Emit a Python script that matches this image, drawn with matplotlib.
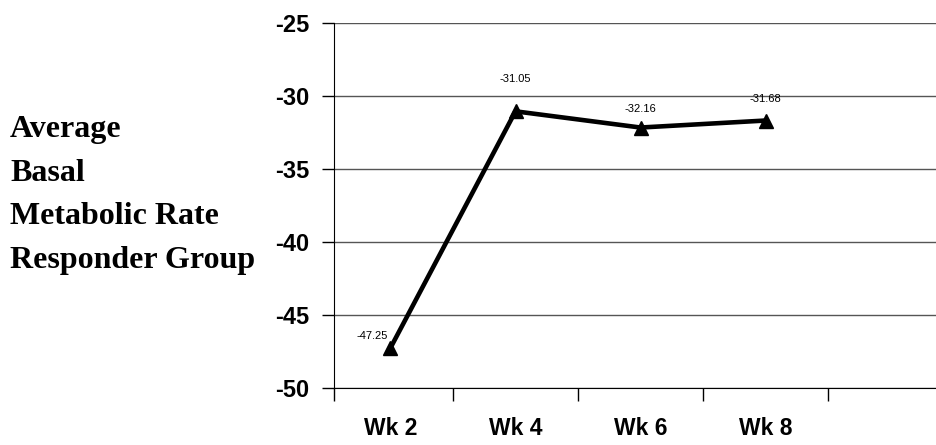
import matplotlib.pyplot as plt

weeks = ['Wk 2', 'Wk 4', 'Wk 6', 'Wk 8']
bmr = [-47.25, -31.05, -32.16, -31.68]
labels = ['-47.25', '-31.05', '-32.16', '-31.68']

# label offsets in pixels (dx, dy)
offsets = [(-18, 12), (0, 32), (0, 19), (0, 22)]

W, H = 937, 445
fig = plt.figure(figsize=(W / 100, H / 100), dpi=100)
ax = fig.add_axes([334 / W, (H - 388) / H, (W - 334) / W, (388 - 23) / H])

x = list(range(len(weeks)))
ax.plot(x, bmr, color='black', lw=3.3, marker='^', markersize=10.5, zorder=3)

for xi, yi, lab, (dx, dy) in zip(x, bmr, labels, offsets):
    ax.annotate(lab, (xi, yi), xytext=(dx * 0.72, dy * 0.72), textcoords='offset points',
                ha='center', va='center', fontsize=8, family='Liberation Sans')

x0 = 0.5 - (453 - 334) / 125
ax.set_xlim(x0, 0.5 + (W - 453) / 125)
ax.set_ylim(-50, -25)
ax.set_yticks([-50, -45, -40, -35, -30, -25])
ax.set_yticklabels(['-50', '-45', '-40', '-35', '-30', '-25'],
                   fontsize=17, fontweight='bold', family='Liberation Sans')
ax.yaxis.grid(True, color='#555555', lw=1)
ax.set_axisbelow(True)

ax.set_xticks([x0, 0.5, 1.5, 2.5, 3.5])
ax.set_xticklabels([])
ax.set_xticks(x, minor=True)
ax.set_xticklabels(weeks, minor=True, fontsize=16.5, fontweight='bold', family='Liberation Sans')
ax.tick_params(axis='x', which='minor', length=0, pad=21)
ax.tick_params(axis='x', which='major', length=9, width=1)
ax.tick_params(axis='y', length=9, width=1, pad=9)

ax.spines['right'].set_visible(False)
ax.spines['top'].set_visible(False)
ax.spines['left'].set_color('black')
ax.spines['bottom'].set_color('black')

fig.text(10 / W, 1 - 195 / H, 'Average\nBasal\nMetabolic Rate\nResponder Group',
         fontsize=23, fontweight='bold', family='Liberation Serif',
         ha='left', va='center', linespacing=1.68)

fig.savefig('out.png', dpi=100)
